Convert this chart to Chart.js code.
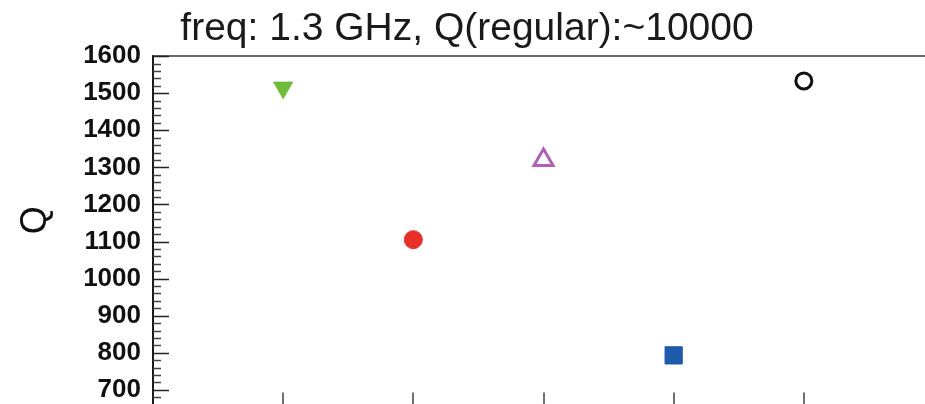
<!DOCTYPE html>
<html>
<head>
<meta charset="utf-8">
<script src="https://cdn.jsdelivr.net/npm/chart.js@4.4.0/dist/chart.umd.min.js"></script>
<style>
  html, body { margin: 0; padding: 0; background: #ffffff; overflow: hidden; }
  #wrap { width: 934px; height: 436px; }
</style>
</head>
<body>
<div id="wrap"><canvas id="c" width="934" height="436"></canvas></div>
<script>
// Cavity slots along the horizontal axis and the loaded Q measured for each
const xPositions = [1, 2, 3, 4, 5];
const qValues = [1515, 1105, 1320, 793, 1533];

// Labelled ticks on the Q axis
const yTickLabels = [700, 800, 900, 1000, 1100, 1200, 1300, 1400, 1500, 1600];

const titleText = 'freq: 1.3 GHz, Q(regular):~10000';
const yAxisTitle = 'Q';

// Marker look for each cavity
const markerStyle = ['triangle', 'circle', 'triangle', 'rect', 'circle'];
const markerRotation = [180, 0, 0, 0, 0];
const markerFill = ['#6fbb3a', '#e8302a', 'rgba(255,255,255,0)', '#1f5bab', 'rgba(255,255,255,0)'];
const markerEdge = ['#6fbb3a', '#e8302a', '#b35fb7', '#1f5bab', '#111111'];
const markerRadius = [11, 9, 11, 12.2, 8];
const markerEdgeWidth = [1, 1, 3, 1, 3];

const FONT = "'Liberation Sans', Arial, Helvetica, sans-serif";

// Frame: top rule, inward tick marks on both axes, rotated axis title
const framePlugin = {
  id: 'frame',
  beforeDatasetsDraw(chart) {
    const { ctx, chartArea } = chart;
    const xs = chart.scales.x;
    const ys = chart.scales.y;
    ctx.save();

    // top rule
    ctx.strokeStyle = '#6a6a6a';
    ctx.lineWidth = 2;
    ctx.beginPath();
    ctx.moveTo(chartArea.left, chartArea.top);
    ctx.lineTo(chartArea.right, chartArea.top);
    ctx.stroke();

    // y ticks: major every 100, minor every 20, pointing into the plot
    for (let v = ys.min + 10; v <= ys.max; v += 20) {
      const major = v % 100 === 0;
      const py = Math.round(ys.getPixelForValue(v)) + 0.5;
      ctx.strokeStyle = major ? '#222222' : '#444444';
      ctx.lineWidth = 1.5;
      ctx.beginPath();
      ctx.moveTo(chartArea.left, py);
      ctx.lineTo(chartArea.left + (major ? 16 : 8), py);
      ctx.stroke();
    }

    // x ticks at each cavity slot, pointing up from the bottom axis
    ctx.strokeStyle = '#707070';
    ctx.lineWidth = 2;
    xPositions.forEach(x => {
      const px = Math.round(xs.getPixelForValue(x));
      ctx.beginPath();
      ctx.moveTo(px, chartArea.bottom);
      ctx.lineTo(px, chartArea.bottom - 16);
      ctx.stroke();
    });

    // vertical axis title
    ctx.fillStyle = '#111111';
    ctx.font = '36px ' + FONT;
    ctx.textAlign = 'center';
    ctx.textBaseline = 'middle';
    ctx.translate(chartArea.left - 117, (chartArea.top + chartArea.bottom) / 2 - 12);
    ctx.rotate(-Math.PI / 2);
    ctx.fillText(yAxisTitle, 0, 0);
    ctx.restore();
  }
};

new Chart(document.getElementById('c'), {
  type: 'scatter',
  data: {
    datasets: [{
      data: xPositions.map((x, i) => ({ x: x, y: qValues[i] })),
      pointStyle: markerStyle,
      rotation: markerRotation,
      backgroundColor: markerFill,
      borderColor: markerEdge,
      pointRadius: markerRadius,
      pointHoverRadius: markerRadius,
      borderWidth: markerEdgeWidth,
      showLine: false
    }]
  },
  options: {
    responsive: false,
    animation: false,
    devicePixelRatio: 1,
    layout: { autoPadding: false, padding: 0 },
    plugins: {
      legend: { display: false },
      tooltip: { enabled: false },
      title: {
        display: true,
        text: titleText,
        color: '#1a1a1a',
        font: { family: FONT, size: 39, weight: 'normal' },
        padding: { top: 6, bottom: 3.3 }
      }
    },
    scales: {
      x: {
        type: 'linear',
        min: 0,
        max: 6,
        display: false
      },
      y: {
        type: 'linear',
        min: 650,
        max: 1600,
        position: 'left',
        afterBuildTicks: scale => {
          scale.ticks = yTickLabels.map(v => ({ value: v }));
        },
        afterFit: scale => { scale.width = 153; },
        grid: { display: false, drawTicks: false },
        border: { display: true, color: '#1a1a1a', width: 2 },
        ticks: {
          color: '#111111',
          padding: 12,
          callback: v => String(v),
          font: { family: FONT, size: 26, weight: 'bold' }
        }
      }
    }
  },
  plugins: [framePlugin]
});
</script>
</body>
</html>
